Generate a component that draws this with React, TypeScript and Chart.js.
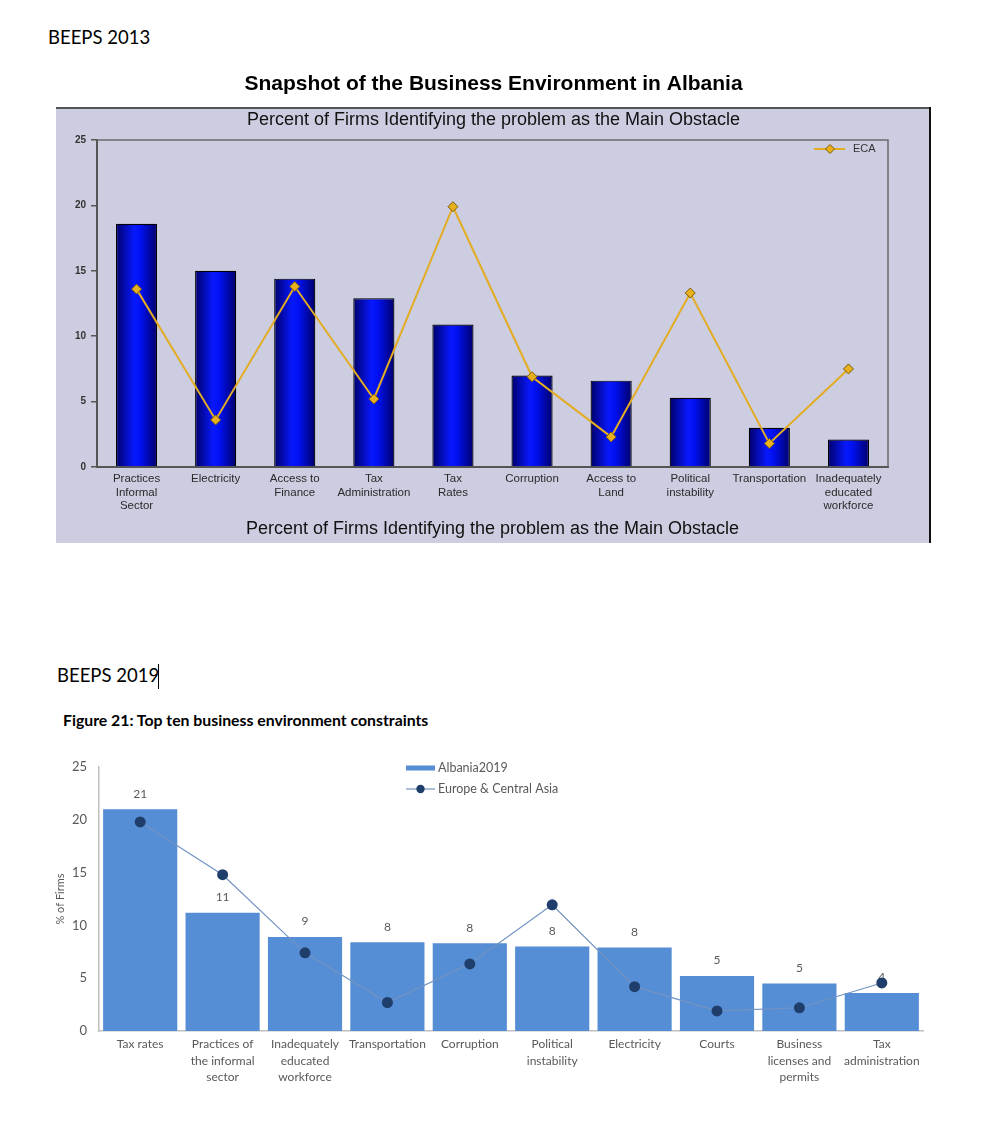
import React, { useEffect, useRef } from "react";
import { Chart, registerables } from "chart.js";

Chart.register(...registerables);

// ---------- BEEPS 2013 ----------
const categories2013: string[][] = [
  ["Practices", "Informal", "Sector"],
  ["Electricity"],
  ["Access to", "Finance"],
  ["Tax", "Administration"],
  ["Tax", "Rates"],
  ["Corruption"],
  ["Access to", "Land"],
  ["Political", "instability"],
  ["Transportation"],
  ["Inadequately", "educated", "workforce"],
];
const albania2013 = [18.6, 15.0, 14.4, 12.9, 10.9, 7.0, 6.6, 5.3, 3.0, 2.1];
const eca2013 = [13.6, 3.6, 13.8, 5.2, 19.9, 6.9, 2.3, 13.3, 1.8, 7.5];
const title2013 = "Snapshot of the Business Environment in Albania";
const subtitle2013 = "Percent of Firms Identifying the problem as the Main Obstacle";
const xTitle2013 = "Percent of Firms Identifying the problem as the Main Obstacle";
const ecaLabel2013 = "ECA";

// ---------- BEEPS 2019 ----------
const categories2019: string[][] = [
  ["Tax rates"],
  ["Practices of", "the informal", "sector"],
  ["Inadequately", "educated", "workforce"],
  ["Transportation"],
  ["Corruption"],
  ["Political", "instability"],
  ["Electricity"],
  ["Courts"],
  ["Business", "licenses and", "permits"],
  ["Tax", "administration"],
];
const albania2019 = [21.0, 11.2, 8.9, 8.4, 8.3, 8.0, 7.9, 5.2, 4.5, 3.6];
const eca2019 = [19.8, 14.8, 7.4, 2.7, 6.35, 11.95, 4.2, 1.9, 2.2, 4.55];
const seriesNames2019 = ["Albania2019", "Europe & Central Asia"];
const yTitle2019 = "% of Firms";

const ARIAL = "'Liberation Sans', Arial, sans-serif";
const LATO = "Lato, 'Open Sans', sans-serif";

const BAR_PCT_2013 = 0.52;

const barGradient = (ctx: any) => {
  const fallback = "#0000D8";
  if (ctx.type !== "data") return fallback;
  const chart = ctx.chart;
  const xs = chart.scales && chart.scales.x;
  if (!xs) return fallback;
  const cx = xs.getPixelForValue(ctx.dataIndex);
  const w = (xs.width / chart.data.labels.length) * BAR_PCT_2013;
  if (!isFinite(cx) || !isFinite(w) || w <= 0) return fallback;
  const g = chart.ctx.createLinearGradient(cx - w / 2, 0, cx + w / 2, 0);
  g.addColorStop(0, "#00006A");
  g.addColorStop(0.45, "#0818FF");
  g.addColorStop(0.6, "#0010F0");
  g.addColorStop(1, "#00006A");
  return g;
};

const frame2013 = {
  id: "frame2013",
  beforeDraw(chart: any) {
    const { ctx, width, height } = chart;
    ctx.save();
    ctx.fillStyle = "#ffffff";
    ctx.fillRect(0, 0, width, height);
    ctx.fillStyle = "#CCCDE0";
    ctx.fillRect(0, 48, width - 2, height - 48);
    ctx.fillStyle = "#555555";
    ctx.fillRect(0, 47, width - 1, 2);
    ctx.fillStyle = "#111111";
    ctx.fillRect(width - 2, 47, 2, height - 47);
    // title and subtitle, centred on the whole frame
    ctx.textAlign = "center";
    ctx.textBaseline = "middle";
    ctx.fillStyle = "#000000";
    ctx.font = `bold 21px ${ARIAL}`;
    ctx.fillText(title2013, width / 2, 24);
    ctx.fillStyle = "#111111";
    ctx.font = `18px ${ARIAL}`;
    ctx.fillText(subtitle2013, width / 2, 60);
    ctx.restore();
  },
  afterDraw(chart: any) {
    const { ctx, chartArea } = chart;
    ctx.save();
    ctx.strokeStyle = "#6A6A6A";
    ctx.lineWidth = 1.5;
    ctx.beginPath();
    ctx.moveTo(chartArea.left, chartArea.top);
    ctx.lineTo(chartArea.right, chartArea.top);
    ctx.lineTo(chartArea.right, chartArea.bottom);
    ctx.stroke();
    // legend
    const ds = chart.data.datasets[1];
    const y = chartArea.top + 9;
    ctx.strokeStyle = ds.borderColor;
    ctx.lineWidth = 2;
    ctx.beginPath();
    ctx.moveTo(chartArea.right - 74, y);
    ctx.lineTo(chartArea.right - 43, y);
    ctx.stroke();
    const mx = chartArea.right - 58;
    ctx.fillStyle = ds.pointBackgroundColor;
    ctx.strokeStyle = ds.pointBorderColor;
    ctx.lineWidth = 1;
    ctx.beginPath();
    ctx.moveTo(mx, y - 4.5);
    ctx.lineTo(mx + 4.5, y);
    ctx.lineTo(mx, y + 4.5);
    ctx.lineTo(mx - 4.5, y);
    ctx.closePath();
    ctx.fill();
    ctx.stroke();
    ctx.fillStyle = "#333333";
    ctx.font = `11px ${ARIAL}`;
    ctx.textBaseline = "middle";
    ctx.textAlign = "left";
    ctx.fillText(ds.label, chartArea.right - 35, y);
    ctx.restore();
  },
};

const valueLabels2019 = {
  id: "valueLabels2019",
  afterDatasetDraw(chart: any, args: any) {
    if (args.index !== 0) return;
    const ctx = chart.ctx;
    const data = chart.data.datasets[0].data;
    ctx.save();
    ctx.font = `12px ${LATO}`;
    ctx.fillStyle = "#595959";
    ctx.textAlign = "center";
    ctx.textBaseline = "middle";
    args.meta.data.forEach((el: any, i: number) => {
      ctx.fillText(String(Math.round(data[i])), el.x, el.y - 15.5);
    });
    ctx.restore();
  },
};

const legend2019 = {
  id: "legend2019",
  afterDraw(chart: any) {
    const ctx = chart.ctx;
    const ds = chart.data.datasets;
    ctx.save();
    ctx.font = `12.5px ${LATO}`;
    ctx.textBaseline = "middle";
    ctx.textAlign = "left";
    ctx.fillStyle = ds[0].backgroundColor;
    ctx.fillRect(366, 25.5, 29, 5);
    ctx.fillStyle = "#595959";
    ctx.fillText(ds[0].label, 398, 28);
    ctx.strokeStyle = ds[1].borderColor;
    ctx.lineWidth = 1.2;
    ctx.beginPath();
    ctx.moveTo(366, 49);
    ctx.lineTo(395, 49);
    ctx.stroke();
    ctx.fillStyle = ds[1].pointBackgroundColor;
    ctx.beginPath();
    ctx.arc(380.5, 49, 4.2, 0, Math.PI * 2);
    ctx.fill();
    ctx.fillStyle = "#595959";
    ctx.fillText(ds[1].label, 398, 49);
    ctx.restore();
  },
};

export default function App() {
  const ref1 = useRef<HTMLCanvasElement>(null);
  const ref2 = useRef<HTMLCanvasElement>(null);

  useEffect(() => {
    const c1 = new Chart(ref1.current as HTMLCanvasElement, {
      type: "bar",
      data: {
        labels: categories2013,
        datasets: [
          {
            type: "bar",
            label: "Albania",
            data: albania2013,
            backgroundColor: barGradient,
            borderColor: "#000000",
            borderWidth: 1.2,
            categoryPercentage: 1,
            barPercentage: BAR_PCT_2013,
            order: 2,
          } as any,
          {
            type: "line",
            label: ecaLabel2013,
            data: eca2013,
            borderColor: "#E3AC22",
            borderWidth: 2,
            pointStyle: "rectRot",
            pointRadius: 5,
            pointBackgroundColor: "#E8B01C",
            pointBorderColor: "#7A5C08",
            pointBorderWidth: 1,
            order: 1,
          } as any,
        ],
      },
      options: {
        animation: false,
        responsive: false,
        events: [],
        layout: { padding: { left: 0, right: 43, top: 80, bottom: 0 } },
        plugins: {
          legend: { display: false },
          tooltip: { enabled: false },
          title: { display: false },
          subtitle: { display: false },
        },
        scales: {
          x: {
            grid: { display: false, drawTicks: false },
            border: { display: true, color: "#555555", width: 2 },
            ticks: {
              font: { family: ARIAL, size: 11.5, lineHeight: 1.18 },
              color: "#2A2A2A",
              maxRotation: 0,
              autoSkip: false,
              padding: 5,
            },
            title: {
              display: true,
              text: xTitle2013,
              color: "#111111",
              font: { family: ARIAL, size: 18 },
              padding: { top: 0, bottom: 3.2 },
            },
            afterFit: (s: any) => {
              s.height = 76;
            },
          },
          y: {
            min: 0,
            max: 25,
            ticks: {
              stepSize: 5,
              font: { family: ARIAL, size: 10, weight: "bold" },
              color: "#333333",
              padding: 5,
            },
            grid: {
              display: true,
              drawOnChartArea: false,
              drawTicks: true,
              tickLength: 6,
              color: "#555555",
              lineWidth: 1.5,
            },
            border: { display: true, color: "#555555", width: 2 },
            afterFit: (s: any) => {
              s.width = 41;
            },
          },
        },
      } as any,
      plugins: [frame2013],
    });

    const c2 = new Chart(ref2.current as HTMLCanvasElement, {
      type: "bar",
      data: {
        labels: categories2019,
        datasets: [
          {
            type: "bar",
            label: seriesNames2019[0],
            data: albania2019,
            backgroundColor: "#558ED5",
            categoryPercentage: 1,
            barPercentage: 0.9,
            order: 2,
          } as any,
          {
            type: "line",
            label: seriesNames2019[1],
            data: eca2019,
            borderColor: "#7393C2",
            borderWidth: 1.2,
            pointRadius: 5.5,
            pointBackgroundColor: "#1F3E6B",
            pointBorderColor: "#1F3E6B",
            pointBorderWidth: 0,
            order: 1,
          } as any,
        ],
      },
      options: {
        animation: false,
        responsive: false,
        events: [],
        layout: { padding: { left: 0, right: 17, top: 27, bottom: 0 } },
        plugins: {
          legend: { display: false },
          tooltip: { enabled: false },
        },
        scales: {
          x: {
            grid: { display: false, drawTicks: false },
            border: { display: true, color: "#BFBFBF", width: 1.5 },
            ticks: {
              font: { family: LATO, size: 12, lineHeight: 1.38 },
              color: "#595959",
              maxRotation: 0,
              autoSkip: false,
              padding: 5,
            },
            afterFit: (s: any) => {
              s.height = 69;
            },
          },
          y: {
            min: 0,
            max: 25,
            ticks: {
              stepSize: 5,
              font: { family: LATO, size: 13 },
              color: "#595959",
              padding: 12,
            },
            grid: { display: false, drawTicks: false },
            border: { display: true, color: "#BFBFBF", width: 1.5 },
            title: {
              display: true,
              text: yTitle2019,
              color: "#595959",
              font: { family: LATO, size: 11 },
              padding: { top: 13.4, bottom: 0 },
            },
            afterFit: (s: any) => {
              s.width = 59;
            },
          },
        },
      } as any,
      plugins: [valueLabels2019, legend2019],
    });

    return () => {
      c1.destroy();
      c2.destroy();
    };
  }, []);

  return (
    <div
      style={{
        position: "absolute",
        left: 0,
        top: 0,
        width: 1000,
        height: 1141,
        background: "#ffffff",
        overflow: "hidden",
      }}
    >
      <div
        style={{
          position: "absolute",
          left: 48,
          top: 26,
          fontFamily: LATO,
          fontSize: 18.5,
          color: "#000",
          whiteSpace: "nowrap",
        }}
      >
        BEEPS 2013
      </div>
      <canvas
        ref={ref1}
        width={875}
        height={483}
        style={{ position: "absolute", left: 56, top: 60, width: 875, height: 483 }}
      />
      <div
        style={{
          position: "absolute",
          left: 57,
          top: 664,
          fontFamily: LATO,
          fontSize: 18.5,
          color: "#000",
          whiteSpace: "nowrap",
        }}
      >
        BEEPS 2019
      </div>
      <div style={{ position: "absolute", left: 158, top: 664, width: 1, height: 25, background: "#000" }} />
      <div
        style={{
          position: "absolute",
          left: 63,
          top: 710,
          fontFamily: LATO,
          fontSize: 15.8,
          fontWeight: "bold",
          color: "#000",
          whiteSpace: "nowrap",
        }}
      >
        Figure 21: Top ten business environment constraints
      </div>
      <canvas
        ref={ref2}
        width={900}
        height={360}
        style={{ position: "absolute", left: 40, top: 740, width: 900, height: 360 }}
      />
    </div>
  );
}
